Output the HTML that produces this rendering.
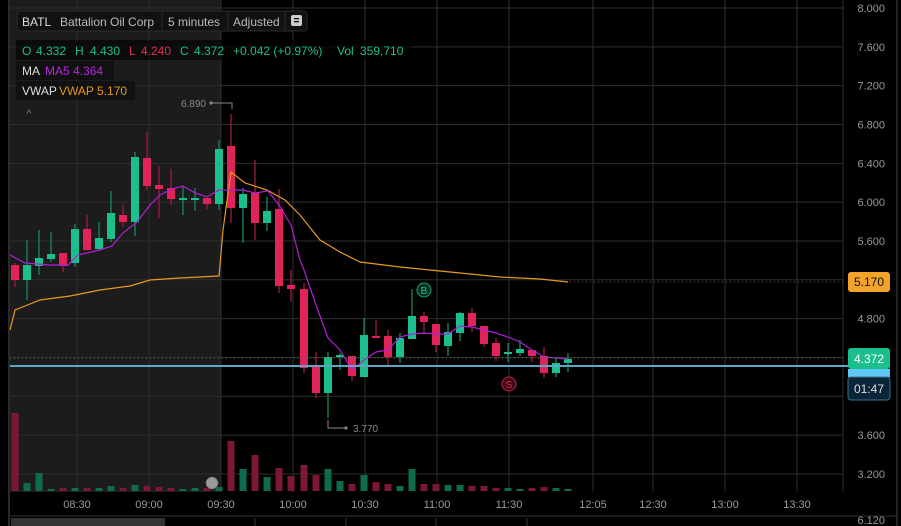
<!DOCTYPE html>
<html><head><meta charset="utf-8"><style>
html,body{margin:0;padding:0;background:#000;width:901px;height:526px;overflow:hidden;font-family:"Liberation Sans",sans-serif}
svg text{font-family:"Liberation Sans",sans-serif}
</style></head><body>
<svg id="s" width="901" height="526" xmlns="http://www.w3.org/2000/svg">
<rect width="901" height="526" fill="#000"/>
<rect x="10" y="0" width="211" height="492" fill="#1c1c1c"/>
<line x1="9" y1="0" x2="9" y2="526" stroke="#2a2a2a" stroke-width="2"/>
<g id="grid" stroke="#2e2e2e" stroke-width="1"></g>
<g id="vol"></g>
<g id="cand"></g>
<polyline id="vwap" fill="none" stroke="#e69a1c" stroke-width="1.2"/>
<polyline id="ma" fill="none" stroke="#b01ed8" stroke-width="1.2"/>
<line x1="10" y1="358" x2="843" y2="358" stroke="#666" stroke-dasharray="1,3"/>
<line x1="570" y1="282" x2="843" y2="282" stroke="#666" stroke-dasharray="1,3"/>
<line x1="10" y1="366" x2="848" y2="366" stroke="#5fa7c4" stroke-width="2"/>
<text x="206" y="107" font-size="10" fill="#888" text-anchor="end">6.890</text>
<polyline points="211,103 232,103 232,109" fill="none" stroke="#888"/>
<circle cx="211" cy="103" r="1.6" fill="#888"/>
<polyline points="328,420 328,428 346,428" fill="none" stroke="#888"/>
<circle cx="346" cy="428" r="1.6" fill="#888"/>
<text x="353" y="432" font-size="10" fill="#888">3.770</text>
<circle cx="424" cy="290" r="7" fill="#0b2e24" stroke="#1aa37a"/>
<text x="424" y="294" font-size="10" fill="#1fbf8e" text-anchor="middle">B</text>
<circle cx="509" cy="384" r="7" fill="#3a0a16" stroke="#c81e48"/>
<text x="509" y="388" font-size="10" fill="#e0305a" text-anchor="middle">S</text>
<text x="29" y="117" font-size="10" fill="#888" text-anchor="middle">^</text>
<circle cx="212" cy="483" r="6" fill="#999" stroke="#666" stroke-dasharray="1,1"/>
<g id="ax" font-size="11" fill="#999"></g>
<rect x="848" y="272" width="42" height="20" rx="3" fill="#f2a32a"/>
<text x="869" y="286" font-size="12" fill="#111" text-anchor="middle">5.170</text>
<rect x="848" y="348" width="42" height="21" rx="3" fill="#1abf8d"/>
<text x="869" y="363" font-size="12" fill="#fff" text-anchor="middle">4.372</text>
<rect x="848" y="369" width="42" height="8" fill="#5ec8f2"/>
<rect x="848" y="377" width="42" height="23" rx="3" fill="#0a2538" stroke="#3d6f8f"/>
<text x="869" y="393" font-size="12" fill="#ddd" text-anchor="middle">01:47</text>
<line x1="897" y1="0" x2="897" y2="526" stroke="#222" stroke-width="2"/>
<g font-size="11" fill="#999" text-anchor="middle">
<text x="77" y="508">08:30</text><text x="149" y="508">09:00</text><text x="221" y="508">09:30</text><text x="293" y="508">10:00</text><text x="365" y="508">10:30</text><text x="437" y="508">11:00</text><text x="509" y="508">11:30</text><text x="593" y="508">12:05</text><text x="653" y="508">12:30</text><text x="725" y="508">13:00</text><text x="797" y="508">13:30</text>
</g>
<line x1="10" y1="516" x2="897" y2="516" stroke="#333"/>
<rect x="11" y="518" width="154" height="8" fill="#333"/>
<g stroke="#333"><line x1="74" y1="518" x2="74" y2="526"/><line x1="255" y1="518" x2="255" y2="526"/><line x1="346" y1="518" x2="346" y2="526"/><line x1="436" y1="518" x2="436" y2="526"/><line x1="527" y1="518" x2="527" y2="526"/></g>
<rect x="17" y="11" width="290" height="20" rx="3" fill="#111" stroke="#2a2a2a"/>
<g font-size="12" fill="#bbb">
<text x="22" y="26" fill="#ddd">BATL</text><text x="60" y="26">Battalion Oil Corp</text>
<line x1="162" y1="12" x2="162" y2="30" stroke="#2a2a2a"/>
<text x="168" y="26">5 minutes</text>
<line x1="228" y1="12" x2="228" y2="30" stroke="#2a2a2a"/>
<text x="233" y="26">Adjusted</text>
<line x1="285" y1="12" x2="285" y2="30" stroke="#2a2a2a"/>
</g>
<rect x="291" y="15" width="11" height="11" rx="2" fill="#ccc"/>
<rect x="294" y="18" width="5" height="1.3" fill="#111"/><rect x="294" y="21" width="5" height="1.3" fill="#111"/>
<rect x="16" y="40" width="395" height="20" fill="#000" opacity="0.6"/>
<g font-size="12">
<text x="22" y="55" fill="#1abf8d">O</text><text x="36" y="55" fill="#1abf8d">4.332</text>
<text x="75" y="55" fill="#1abf8d">H</text><text x="90" y="55" fill="#1abf8d">4.430</text>
<text x="129" y="55" fill="#e02e55">L</text><text x="141" y="55" fill="#e02e55">4.240</text>
<text x="180" y="55" fill="#1abf8d">C</text><text x="194" y="55" fill="#1abf8d">4.372</text>
<text x="233" y="55" fill="#1abf8d">+0.042 (+0.97%)</text>
<text x="337" y="55" fill="#1abf8d">Vol</text><text x="360" y="55" fill="#1abf8d">359,710</text>
</g>
<rect x="16" y="61" width="98" height="19" fill="#111"/>
<text x="22" y="75" font-size="12" fill="#ddd">MA</text><text x="45" y="75" font-size="12" fill="#b526e0">MA5 4.364</text>
<rect x="16" y="81" width="119" height="19" fill="#111"/>
<text x="22" y="95" font-size="12" fill="#ddd">VWAP</text><text x="59" y="95" font-size="12" fill="#e69a1c">VWAP 5.170</text>
</svg>
<script>
var NS="http://www.w3.org/2000/svg";
function el(p,t,a){var e=document.createElementNS(NS,t);for(var k in a)e.setAttribute(k,a[k]);p.appendChild(e);return e;}
var g=document.getElementById('grid');
var xs=[77,149,221,293,365,437,509,593,653,725,797];
xs.forEach(function(x){el(g,'line',{x1:x,y1:0,x2:x,y2:492});});
var ax=document.getElementById('ax');
var labs=["8.000","7.600","7.200","6.800","6.400","6.000","5.600","5.200","4.800","4.400","4.000","3.600","3.200"];
for(var i=0;i<13;i++){var y=8+i*38.83;el(g,'line',{x1:10,y1:y,x2:843,y2:y});
 if(i!=7&&i!=9){var t=el(ax,'text',{x:885,y:y+4,'text-anchor':'end'});t.textContent=labs[i];}}
var t2=el(ax,'text',{x:885,y:524,'text-anchor':'end'});t2.textContent="6.120";
el(g,'line',{x1:843,y1:0,x2:843,y2:492});
var C=[[15,0,265,280,263,287],[27,1,265,280,240,300],[39,1,258,266,230,275],[51,1,254,259,232,262],[63,0,253,266,253,272],[75,1,229,263,224,267],[87,0,229,250,215,250],[99,1,238,249,222,250],[111,1,213,239,191,242],[123,0,215,222,205,227],[135,1,157,222,152,236],[147,0,158,186,132,190],[159,0,185,189,166,218],[171,0,188,199,169,205],[183,1,198,200,187,215],[195,1,198,200,188,211],[207,0,198,204,198,209],[219,1,149,204,140,210],[231,0,146,208,114,223],[243,1,194,208,188,243],[255,0,193,223,160,240],[267,1,211,223,197,231],[279,0,209,286,189,293],[291,0,285,289,270,302],[304,0,289,368,283,373],[316,0,367,393,352,398],[328,1,357,393,352,418],[340,1,355,357,353,370],[352,0,356,376,356,381],[364,1,335,377,318,377],[376,0,336,338,320,338],[388,0,336,357,330,365],[400,1,338,357,333,363],[412,1,316,339,289,339],[424,0,316,322,312,333],[436,0,324,345,324,352],[448,1,332,346,323,356],[460,1,313,333,312,341],[472,0,313,326,308,332],[484,0,326,344,326,347],[496,0,343,356,338,361],[508,1,352,354,343,362],[520,1,349,353,340,356],[532,0,350,356,350,362],[544,0,356,373,347,378],[556,1,363,373,358,377],[568,1,359,363,353,372]];
var cg=document.getElementById('cand');
C.forEach(function(c){var col=c[1]?'#1abf8d':'#e0245a';var wc=c[1]?'#128a64':'#a3183f';
 el(cg,'line',{x1:c[0],y1:c[4],x2:c[0],y2:c[5],stroke:wc,'stroke-width':1.3});
 el(cg,'rect',{x:c[0]-4,y:c[2],width:8,height:Math.max(1.5,c[3]-c[2]),fill:col});});
var V=[413,483,473,489,488,488,488,488,486,488,485,486,487,488,489,488,488,487,441,469,455,477,468,476,465,475,469,481,484,475,482,484,486,469,484,484,485,485,486,486,488,488,489,488,487,488,489];
var vg=document.getElementById('vol');
V.forEach(function(v,i){var c=C[i];el(vg,'rect',{x:c[0]-3.5,y:v,width:7,height:491-v,fill:c[1]?'#0f6b4e':'#7d1833'});});
document.getElementById('vwap').setAttribute('points',"10,330 15,310 25,306 40,300 70,296 100,290 130,286 150,280 180,278 219,276 223,230 231,172 245,183 267,190 285,200 300,215 320,240 340,252 360,262 400,267 430,270 470,274 500,277 540,279 568,282");
document.getElementById('ma').setAttribute('points',"10,255 25,263 50,265 68,265 78,255 100,250 112,246 123,233 137,222 150,205 160,195 172,189 183,186 195,193 207,197 219,190 231,190 243,190 255,193 268,191 279,205 291,225 300,260 304,270 316,305 328,338 340,350 352,370 364,360 376,352 388,350 400,337 412,334 424,333 436,334 448,334 460,326 472,327 484,330 496,333 508,337 520,342 532,350 544,357 556,358 568,359");
</script>
</body></html>
